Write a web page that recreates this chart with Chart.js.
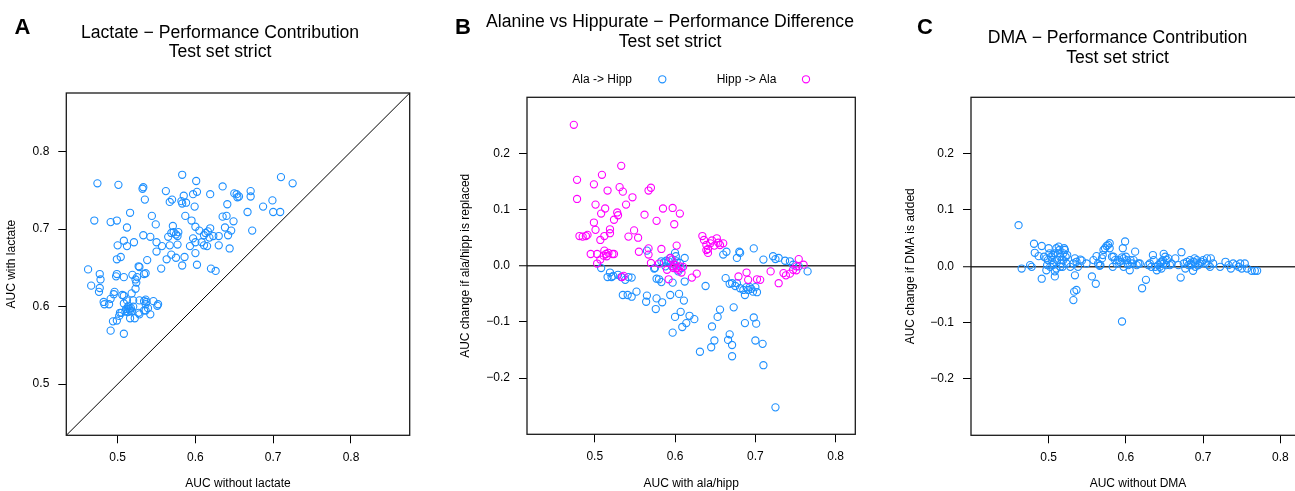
<!DOCTYPE html>
<html><head><meta charset="utf-8">
<script src="https://cdn.jsdelivr.net/npm/chart.js@4.4.1/dist/chart.umd.min.js"></script>
<style>
html,body{margin:0;padding:0;background:#fff;overflow:hidden;width:1295px;height:491px;position:relative}
.panel{position:absolute;top:0;height:491px}
canvas{display:block}
</style></head><body>
<div class="panel" style="left:0;width:440px"><canvas id="cA" width="440" height="491" style="width:440px;height:491px"></canvas></div>
<div class="panel" style="left:440px;width:460px"><canvas id="cB" width="460" height="491" style="width:460px;height:491px"></canvas></div>
<div class="panel" style="left:900px;width:435px"><canvas id="cC" width="435" height="491" style="width:435px;height:491px"></canvas></div>
<script>
// ---------- Panel A: Lactate ----------
const A_WITHOUT = [.474,.501,.532,.533,.535,.583,.601,.562,.570,.567, .585,.597,.602,.582,.583,.588,.599,.619,.635,.641, .650,.653,.656,.654,.671,.671,.667,.687,.699,.700, .710,.725,.709,.673,.470,.491,.499,.516,.544,.549, .512,.533,.521,.508,.512,.500,.542,.550,.550,.557, .565,.571,.569,.572,.575,.578,.577,.567,.577,.569, .563,.575,.586,.583,.556,.538,.587,.595,.600,.597, .600,.593,.600,.602,.605,.611,.613,.616,.619,.618, .615,.611,.608,.623,.630,.630,.635,.640,.638,.642, .646,.649,.644,.620,.626,.462,.466,.477,.478,.477, .476,.482,.483,.489,.491,.496,.495,.499,.498,.499, .504,.508,.494,.499,.491,.508,.503,.502,.505,.508, .506,.508,.512,.511,.513,.515,.516,.513,.510,.517, .518,.514,.516,.522,.519,.523,.525,.524,.523,.518, .520,.528,.528,.527,.534,.536,.534,.536,.537,.536, .536,.534,.528,.542,.546,.539,.552,.551,.527,.520];
const A_WITH = [.759,.757,.752,.754,.738,.770,.762,.749,.738,.735, .743,.745,.748,.736,.733,.734,.729,.745,.755,.732, .746,.745,.742,.741,.749,.742,.722,.729,.737,.722, .767,.759,.722,.698,.711,.709,.711,.721,.717,.706, .702,.692,.683,.685,.678,.679,.690,.683,.671,.678, .690,.704,.695,.696,.693,.696,.691,.679,.680,.667, .661,.663,.664,.653,.649,.660,.717,.711,.703,.688, .683,.678,.669,.654,.698,.692,.695,.697,.701,.689, .678,.679,.683,.691,.679,.691,.716,.717,.702,.692, .698,.710,.675,.649,.646,.648,.627,.642,.635,.624, .619,.606,.603,.603,.610,.619,.616,.642,.639,.661, .664,.638,.581,.582,.569,.565,.592,.588,.592,.614, .615,.604,.608,.597,.599,.597,.595,.593,.594,.598, .594,.601,.585,.585,.641,.635,.638,.631,.623,.617, .608,.608,.651,.652,.642,.643,.607,.609,.606,.603, .595,.595,.590,.590,.607,.598,.603,.601,.592,.600];
const A_LIMITS = [0.434, 0.8755];
const A_TICKS = [0.5, 0.6, 0.7, 0.8];
const A_TICK_LABELS = ['0.5', '0.6', '0.7', '0.8'];

// ---------- Panel B: Alanine vs Hippurate ----------
const B_ALA_HIPP_X = [.508,.516,.519,.521,.523,.529,.533,.538,.542,.546, .535,.541,.546,.552,.564,.565,.565,.576,.577,.584, .580,.574,.586,.589,.594,.597,.600,.601,.605,.611, .612,.612,.597,.600,.607,.609,.614,.618,.624,.631, .638,.645,.646,.649,.653,.656,.660,.664,.663,.668, .666,.668,.671,.671,.673,.677,.680,.681,.671,.675, .677,.681,.685,.687,.689,.691,.693,.695,.697,.700, .702,.687,.698,.698,.700,.701,.709,.710,.710,.722, .725,.729,.725,.737,.743,.747,.754,.765,.594,.602, .606,.599,.596,.608,.604,.592,.588,.583,.575,.577, .583];
const B_ALA_HIPP_Y = [-.004,-.020,-.012,-.020,-.018,-.016,-.020,-.025,-.020,-.021, -.052,-.052,-.055,-.046,-.064,-.053,.027,-.077,-.058,-.065, -.024,-.005,.006,.009,-.052,-.030,.023,.017,-.050,-.062, -.028,.014,-.119,-.091,-.082,-.109,-.102,-.089,-.095,-.153, -.036,-.145,-.108,-.133,-.091,-.078,.020,.025,-.022,-.032, -.132,-.122,-.141,-.161,-.074,.014,.025,.023,-.031,-.036, -.031,-.040,-.043,-.052,-.038,-.043,-.038,-.041,-.046,-.038, -.047,-.102,.031,-.092,-.133,-.103,-.139,-.177,.011,.017, .012,.014,-.252,.009,.008,.002,-.001,-.010,.014,.008, .005,.002,-.001,-.004,-.010,.008,-.001,.008,-.004,-.023, -.029];
const B_HIPP_ALA_X = [.474,.478,.478,.481,.485,.489,.491,.495,.499,.501, .499,.501,.503,.503,.509,.533,.516,.513,.508,.507, .512,.519,.519,.524,.528,.529,.531,.535,.539,.547, .549,.542,.554,.555,.512,.515,.511,.507,.522,.524, .517,.514,.534,.536,.562,.567,.570,.577,.585,.597, .599,.606,.602,.567,.567,.570,.583,.580,.590,.592, .594,.596,.598,.600,.602,.604,.606,.610,.608,.598, .621,.627,.634,.636,.639,.641,.641,.644,.646,.649, .652,.654,.656,.660,.639,.679,.689,.691,.702,.706, .719,.729,.735,.738,.743,.747,.751,.754,.760,.751];
const B_HIPP_ALA_Y = [.251,.153,.119,.053,.052,.053,.055,.021,.145,.109, .077,.064,.021,.004,.162,.178,.134,.102,.093,.046, .053,.065,.058,.082,.095,.090,.140,.132,.109,.122, .063,.052,.050,.025,.027,.017,.018,.011,.021,.021, .023,.021,-.020,-.018,.091,.134,.139,.080,.102,.103, .074,.093,.036,.031,.020,.005,.030,.004,-.007,-.024, .014,.011,-.001,.002,-.004,-.007,-.001,-.002,-.012,-.004, -.021,-.014,.053,.046,.037,.030,.023,.040,.045,.036, .049,.041,.037,.040,.028,-.019,-.012,-.025,-.024,-.025, -.010,-.031,-.013,-.017,-.014,-.007,-.001,.012,.002,-.008];
const B_X_LIMITS = [0.4157, 0.8244];
const DIFF_Y_LIMITS = [-0.3, 0.3];
const AUC_TICKS = [0.5, 0.6, 0.7, 0.8];
const AUC_TICK_LABELS = ['0.5', '0.6', '0.7', '0.8'];
const DIFF_TICKS = [-0.2, -0.1, 0, 0.1, 0.2];
const DIFF_TICK_LABELS = ['\u22120.2', '\u22120.1', '0.0', '0.1', '0.2'];

// ---------- Panel C: DMA ----------
const C_WITHOUT = [.461,.465,.476,.478,.481,.482,.487,.491,.491,.494, .497,.497,.500,.501,.503,.504,.505,.508,.510,.513, .514,.515,.517,.518,.519,.520,.521,.522,.523,.508, .508,.510,.515,.498,.502,.506,.528,.532,.534,.536, .538,.541,.543,.534,.533,.536,.532,.549,.556,.558, .561,.562,.564,.566,.567,.569,.570,.571,.573,.575, .577,.579,.579,.582,.583,.584,.586,.588,.590,.592, .595,.596,.597,.599,.600,.601,.603,.605,.608,.610, .612,.614,.616,.618,.621,.626,.595,.629,.631,.633, .635,.636,.638,.640,.642,.644,.646,.649,.649,.651, .653,.655,.657,.659,.664,.668,.671,.672,.675,.677, .679,.681,.683,.685,.687,.688,.690,.692,.694,.696, .698,.700,.703,.705,.707,.709,.710,.713,.722,.729, .733,.736,.739,.743,.746,.748,.750,.754,.757,.763,.767,.770, .499,.511,.516,.512,.506,.524,.519,.602,.606,.597,.645,.648,.652,.646,.689,.684,.690];
const C_CHANGE = [.073,-.004,.002,-.001,.040,.024,.018,.036,-.022,.017, .014,-.007,.032,.023,.017,.011,.002,.023,.032,.035, .029,.017,.011,-.001,.023,.032,.029,.017,.005,-.018, -.009,-.004,-.001,.002,-.001,.005,-.001,.005,.014,.008, -.001,.012,.010,-.016,-.045,-.042,-.060,.005,-.018,.011, -.031,.018,.005,.001,.002,.014,.020,.029,.032,.036, .038,.041,.032,.017,-.001,.017,.011,.005,.011,.008, .016,.032,-.001,.044,.017,.011,.002,-.007,.005,.011, .026,.002,.005,.005,-.039,-.024,-.098,.002,.005,-.001, .020,.011,-.001,-.007,.002,-.001,.008,.022,.005,.017, .011,.014,.002,.005,.014,.002,-.020,.025,.005,-.004, .008,.002,.011,.002,-.008,.008,.005,.011,.002,.005, .008,.011,.005,.014,.002,-.001,.014,.005,-.001,.008, .002,-.004,.005,.002,-.001,.005,-.004,.005,-.004,-.008,-.008,-.008, .011,.011,.005,.023,.020,.020,.011,.005,.011,.014,.005,.011,.002,-.004,.014,.005,-.001];
const C_X_LIMITS = [0.3994, 0.832];

const BLUE = '#1E90FF';
const MAGENTA = '#FF00FF';
const FONT = '"Liberation Sans", Arial, Helvetica, sans-serif';
Chart.defaults.font.family = FONT;
Chart.defaults.color = '#000';

const pts = (xs, ys) => xs.map((x, i) => ({x, y: ys[i]}));

const framePlugin = {
  id: 'frame',
  afterDatasetsDraw(chart) {
    const {ctx, chartArea: a} = chart;
    ctx.save();
    ctx.strokeStyle = '#1a1a1a';
    ctx.lineWidth = 1.3;
    ctx.strokeRect(a.left, a.top, a.right - a.left, a.bottom - a.top);
    ctx.restore();
  }
};
const letterPlugin = {
  id: 'panelLetter',
  afterDraw(chart, args, o) {
    if (!o || !o.text) return;
    const ctx = chart.ctx;
    ctx.save();
    ctx.font = 'bold 22px ' + FONT;
    ctx.fillStyle = '#000';
    ctx.textBaseline = 'alphabetic';
    ctx.textAlign = 'left';
    ctx.fillText(o.text, o.x, o.y);
    ctx.restore();
  }
};
const pairLegendPlugin = {
  id: 'pairLegend',
  afterDraw(chart, args, o) {
    if (!o || !o.items) return;
    const ctx = chart.ctx;
    ctx.save();
    ctx.font = '12px ' + FONT;
    ctx.textBaseline = 'middle';
    ctx.textAlign = 'left';
    o.items.forEach(it => {
      const ds = chart.data.datasets[it.dataset];
      ctx.fillStyle = '#000';
      ctx.fillText(ds.label, it.textX, o.y);
      ctx.beginPath();
      ctx.arc(it.markX, o.y, 3.6, 0, Math.PI * 2);
      ctx.strokeStyle = ds.pointBorderColor;
      ctx.lineWidth = 1.1;
      ctx.stroke();
    });
    ctx.restore();
  }
};

function scaleCfg({limits, ticks, labels, title, size, horizontal, titlePad, zero}) {
  return {
    type: 'linear',
    min: limits[0], max: limits[1],
    afterBuildTicks: s => { s.ticks = ticks.map(v => ({value: v})); },
    afterFit: s => { if (horizontal) s.height = size; else s.width = size; },
    grid: {
      drawOnChartArea: !!zero,
      drawTicks: true,
      tickLength: 8,
      tickWidth: 1,
      tickColor: '#000',
      color: c => (zero && c.tick && Math.abs(c.tick.value) < 1e-9) ? '#333' : 'rgba(0,0,0,0)',
      lineWidth: c => (zero && c.tick && Math.abs(c.tick.value) < 1e-9) ? 1.5 : 1
    },
    border: {display: false},
    ticks: {
      autoSkip: false, maxRotation: 0, minRotation: 0,
      padding: horizontal ? 7 : 9,
      font: {size: 12}, color: '#000',
      callback: (v, i) => labels[i]
    },
    title: {display: true, text: title, font: {size: 12}, color: '#000', padding: titlePad}
  };
}

function dotSet(label, xs, ys, color, order) {
  return {
    label, data: pts(xs, ys), order,
    pointStyle: 'circle', pointRadius: 3.6, pointBorderWidth: 1.1,
    borderColor: color, pointBorderColor: color,
    backgroundColor: 'rgba(0,0,0,0)', pointBackgroundColor: 'rgba(0,0,0,0)',
    showLine: false
  };
}

function baseOptions({pad, title, titlePad, letter, xScale, yScale, legend}) {
  return {
    responsive: false, animation: false, events: [],
    layout: {padding: {left: pad[0], right: pad[1], top: 0, bottom: 0}},
    plugins: {
      legend: {display: false},
      tooltip: {enabled: false},
      title: {display: true, text: title, color: '#000',
        font: {size: 17.6, weight: 'normal', lineHeight: '19.5px'}, padding: titlePad},
      panelLetter: letter,
      pairLegend: legend || {}
    },
    scales: {x: xScale, y: yScale}
  };
}

// Panel A
new Chart(document.getElementById('cA'), {
  type: 'scatter',
  data: {datasets: [
    dotSet('Lactate', A_WITHOUT, A_WITH, BLUE, 1),
    {label: 'y = x', data: [{x: A_LIMITS[0], y: A_LIMITS[0]}, {x: A_LIMITS[1], y: A_LIMITS[1]}],
     showLine: true, borderColor: '#000', borderWidth: 1, pointRadius: 0, order: 2}
  ]},
  options: baseOptions({
    pad: [30.3, 30.3],
    title: ['Lactate \u2212 Performance Contribution', 'Test set strict'],
    titlePad: {top: 23.25, bottom: 30.75},
    letter: {text: 'A', x: 14.5, y: 34},
    xScale: scaleCfg({limits: A_LIMITS, ticks: A_TICKS, labels: A_TICK_LABELS, title: 'AUC without lactate',
      size: 55.7, horizontal: true, titlePad: {top: 0, bottom: -0.2}}),
    yScale: scaleCfg({limits: A_LIMITS, ticks: A_TICKS, labels: A_TICK_LABELS, title: 'AUC with lactate',
      size: 36, horizontal: false, titlePad: {top: -26.3, bottom: 0}})
  }),
  plugins: [framePlugin, letterPlugin]
});

// Panel B
new Chart(document.getElementById('cB'), {
  type: 'scatter',
  data: {datasets: [
    dotSet('Ala -> Hipp', B_ALA_HIPP_X, B_ALA_HIPP_Y, BLUE, 2),
    dotSet('Hipp -> Ala', B_HIPP_ALA_X, B_HIPP_ALA_Y, MAGENTA, 1)
  ]},
  options: baseOptions({
    pad: [44.7, 44.7],
    title: ['Alanine vs Hippurate \u2212 Performance Difference', 'Test set strict'],
    titlePad: {top: 12.45, bottom: 45.85},
    letter: {text: 'B', x: 15, y: 34},
    legend: {y: 79.3, items: [{dataset: 0, textX: 132.3, markX: 222.3}, {dataset: 1, textX: 276.7, markX: 366}]},
    xScale: scaleCfg({limits: B_X_LIMITS, ticks: AUC_TICKS, labels: AUC_TICK_LABELS, title: 'AUC with ala/hipp',
      size: 56.7, horizontal: true, titlePad: {top: 0, bottom: -0.2}}),
    yScale: scaleCfg({limits: DIFF_Y_LIMITS, ticks: DIFF_TICKS, labels: DIFF_TICK_LABELS, title: 'AUC change if ala/hipp is replaced',
      size: 42.3, horizontal: false, titlePad: {top: -26.6, bottom: 0}, zero: true})
  }),
  plugins: [framePlugin, letterPlugin, pairLegendPlugin]
});

// Panel C
new Chart(document.getElementById('cC'), {
  type: 'scatter',
  data: {datasets: [
    dotSet('DMA', C_WITHOUT, C_CHANGE, BLUE, 1)
  ]},
  options: baseOptions({
    pad: [30, 30],
    title: ['DMA \u2212 Performance Contribution', 'Test set strict'],
    titlePad: {top: 28.75, bottom: 29.55},
    letter: {text: 'C', x: 17, y: 34.3},
    xScale: scaleCfg({limits: C_X_LIMITS, ticks: AUC_TICKS, labels: AUC_TICK_LABELS, title: 'AUC without DMA',
      size: 55.7, horizontal: true, titlePad: {top: 0, bottom: -0.2}}),
    yScale: scaleCfg({limits: DIFF_Y_LIMITS, ticks: DIFF_TICKS, labels: DIFF_TICK_LABELS, title: 'AUC change if DMA is added',
      size: 41, horizontal: false, titlePad: {top: -26.9, bottom: 0}, zero: true})
  }),
  plugins: [framePlugin, letterPlugin]
});
</script>
</body></html>
